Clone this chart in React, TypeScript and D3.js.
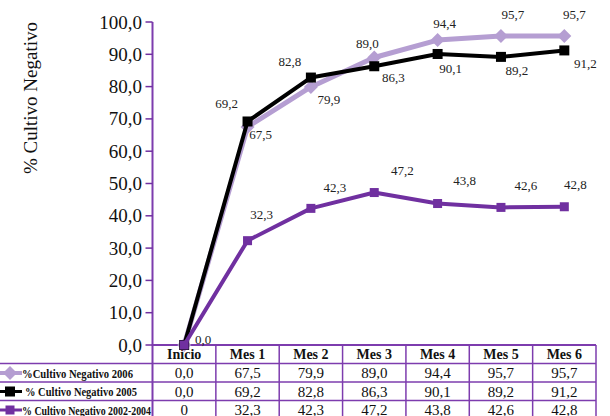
import React from "react";
import * as d3 from "d3";

// Categories and series values
const categories = ["Inicio", "Mes 1", "Mes 2", "Mes 3", "Mes 4", "Mes 5", "Mes 6"];
const values2006 = [0.0, 67.5, 79.9, 89.0, 94.4, 95.7, 95.7];
const values2005 = [0.0, 69.2, 82.8, 86.3, 90.1, 89.2, 91.2];
const values2002 = [0, 32.3, 42.3, 47.2, 43.8, 42.6, 42.8];
const seriesNames = [
  "%Cultivo Negativo 2006",
  "% Cultivo Negativo 2005",
  "% Cultivo Negativo 2002-2004",
];
const yTicks = [0, 10, 20, 30, 40, 50, 60, 70, 80, 90, 100];

// Label placement relative to each point (null = no label)
const offsets2006: ([number, number] | null)[] = [null, [13, 8], [18, 13], [-7, -14], [7, -17], [12, -21], [10, -21]];
const offsets2005: ([number, number] | null)[] = [null, [-21, -18], [-21, -16], [19, 11], [13, 15], [16, 14], [21, 13]];
const offsets2002: ([number, number] | null)[] = [[19, -6], [14, -26], [24, -21], [28, -22], [27, -23], [25, -22], [11, -22]];

const PURPLE = "#7030A0";
const LAVENDER = "#B59ED2";
const GRID = "#7D3CAE";
const FONT = "Liberation Serif";

const fmt = (v: number) => d3.format(".1f")(v).replace(".", ",");

type Series = {
  name: string;
  values: number[];
  color: string;
  width: number;
  marker: "diamond" | "square";
  size: number;
  offsets: ([number, number] | null)[];
  cellText: (v: number, i: number) => string;
};

const series: Series[] = [
  { name: seriesNames[0], values: values2006, color: LAVENDER, width: 5, marker: "diamond", size: 7, offsets: offsets2006, cellText: (v) => fmt(v) },
  { name: seriesNames[1], values: values2005, color: "#000000", width: 4, marker: "square", size: 5, offsets: offsets2005, cellText: (v) => fmt(v) },
  { name: seriesNames[2], values: values2002, color: PURPLE, width: 4, marker: "square", size: 4.5, offsets: offsets2002, cellText: (v, i) => (i === 0 ? d3.format("d")(v) : fmt(v)) },
];

const W = 610;
const H = 416;
const left = 152.5;
const right = 596;
const yTop = 22;
const yBottom = 345;
const rowH = 18.5;

// Serif text used everywhere in the chart
function T(props: React.SVGProps<SVGTextElement>) {
  const { style, ...rest } = props;
  return <text fill="#111" dominantBaseline="central" {...rest} style={{ fontFamily: FONT, ...(style || {}) }} />;
}

function Marker({ type, x, y, size, color }: { type: string; x: number; y: number; size: number; color: string }) {
  if (type === "diamond") {
    const p = `M${x},${y - size}L${x + size},${y}L${x},${y + size}L${x - size},${y}Z`;
    return <path d={p} fill={color} />;
  }
  return <rect x={x - size} y={y - size} width={size * 2} height={size * 2} fill={color} />;
}

export default function App() {
  const x = d3.scaleBand<string>().domain(categories).range([left, right]);
  const y = d3.scaleLinear().domain([0, 100]).range([yBottom, yTop]);
  const cx = (c: string) => (x(c) as number) + x.bandwidth() / 2;

  const line = d3
    .line<number>()
    .x((_, i) => cx(categories[i]))
    .y((v) => y(v));

  const rowY = (r: number) => yBottom + rowH * r; // top of row r (0 = header)
  const rowMid = (r: number) => rowY(r) + 9.5;

  return (
    <div style={{ position: "fixed", left: 0, top: 0 }}>
      <svg width={W} height={H} style={{ display: "block", background: "#fff" }}>
        {/* y axis title */}
        <T transform={`translate(30,98) rotate(-90)`} textAnchor="middle" fontSize={19}>
          % Cultivo Negativo
        </T>

        {/* y axis */}
        <line x1={left} x2={left} y1={yTop} y2={H} stroke={GRID} strokeWidth={2} />
        {yTicks.map((t) => (
          <g key={t}>
            <line x1={left - 7} x2={left} y1={y(t)} y2={y(t)} stroke={PURPLE} strokeWidth={1.5} />
            <T x={142} y={y(t)} textAnchor="end" fontSize={19}>
              {fmt(t)}
            </T>
          </g>
        ))}

        {/* data table grid */}
        <line x1={left} x2={right} y1={yBottom} y2={yBottom} stroke={GRID} strokeWidth={2} />
        {[1, 2, 3].map((r) => (
          <line key={r} x1={0} x2={right} y1={rowY(r)} y2={rowY(r)} stroke={GRID} strokeWidth={1.5} />
        ))}
        {categories.map((c) => (
          <line
            key={c}
            x1={(x(c) as number) + x.bandwidth()}
            x2={(x(c) as number) + x.bandwidth()}
            y1={yBottom}
            y2={H}
            stroke={GRID}
            strokeWidth={1.5}
          />
        ))}
        {categories.map((c) => (
          <T key={c} x={cx(c)} y={rowMid(0)} textAnchor="middle" fontSize={14} fontWeight="bold">
            {c}
          </T>
        ))}
        {series.map((s, r) => (
          <g key={s.name}>
            <line x1={0} x2={22} y1={rowMid(r + 1)} y2={rowMid(r + 1)} stroke={s.color} strokeWidth={s.width - 1} />
            <Marker type={s.marker} x={10} y={rowMid(r + 1)} size={s.size} color={s.color} />
            <T
              x={r === 1 ? 25 : 22}
              y={rowMid(r + 1)}
              fontSize={13.5}
              fontWeight="bold"
              textLength={r === 0 ? 111 : r === 1 ? 112 : 129}
              lengthAdjust="spacingAndGlyphs"
            >
              {s.name}
            </T>
            {s.values.map((v, i) => (
              <T key={i} x={cx(categories[i])} y={rowMid(r + 1)} textAnchor="middle" fontSize={15}>
                {s.cellText(v, i)}
              </T>
            ))}
          </g>
        ))}

        {/* series lines and markers */}
        {series.map((s) => (
          <g key={s.name}>
            <path d={line(s.values) as string} fill="none" stroke={s.color} strokeWidth={s.width} strokeLinejoin="round" />
            {s.values.map((v, i) => (
              <Marker key={i} type={s.marker} x={cx(categories[i])} y={y(v)} size={s.size} color={s.color} />
            ))}
          </g>
        ))}

        {/* data labels */}
        {series.map((s) =>
          s.values.map((v, i) => {
            const o = s.offsets[i];
            if (!o) return null;
            return (
              <T key={s.name + i} x={cx(categories[i]) + o[0]} y={y(v) + o[1]} textAnchor="middle" fontSize={13} fill="#222">
                {fmt(v)}
              </T>
            );
          })
        )}
      </svg>
    </div>
  );
}
